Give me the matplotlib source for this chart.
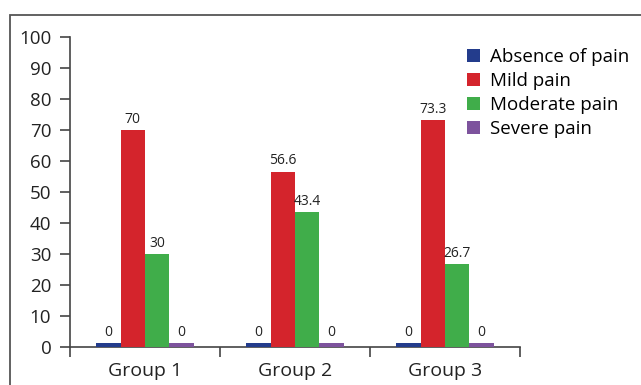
import numpy as np
import matplotlib.pyplot as plt
from matplotlib.patches import Rectangle

plt.rcParams['font.family'] = ['Open Sans', 'DejaVu Sans']

groups = ['Group 1', 'Group 2', 'Group 3']
series = ['Absence of pain', 'Mild pain', 'Moderate pain', 'Severe pain']
absence = [0, 0, 0]
mild = [70, 56.6, 73.3]
moderate = [30, 43.4, 26.7]
severe = [0, 0, 0]
labels_abs = ['0', '0', '0']
labels_mild = ['70', '56.6', '73.3']
labels_mod = ['30', '43.4', '26.7']
labels_sev = ['0', '0', '0']

colors = ['#233c8c', '#d4242c', '#40ad4a', '#7d539d']
edge = '#444444'

fig = plt.figure(figsize=(6.41, 3.85), dpi=100)
ax = fig.add_axes([70/641, 38/385, 450/641, 310/385])

# outer frame (only top and left visible in the original)
fig.patches.append(Rectangle((10/641, -0.1), 1.2, 1 - 15/385 + 0.1,
                             transform=fig.transFigure, fill=False,
                             edgecolor='#555555', linewidth=1.3))

x = np.arange(len(groups))
w = 0.163
data = [absence, mild, moderate, severe]
labs = [labels_abs, labels_mild, labels_mod, labels_sev]
for i, (vals, lab) in enumerate(zip(data, labs)):
    pos = x + (i - 1.5) * w
    h = np.maximum(np.array(vals, dtype=float), 1.2)  # show zero bars as a thin line
    ax.bar(pos, h, width=w, color=colors[i], label=series[i], zorder=3)
    for p, v, t in zip(pos, h, lab):
        ax.text(p, v + 1.0, t, ha='center', va='bottom', fontsize=10, color='#222222')

ax.set_xlim(-0.5, 2.5)
ax.set_ylim(0, 100)
ax.set_yticks(np.arange(0, 101, 10))
ax.set_xticks(x)
ax.set_xticklabels(groups, fontsize=14, color='#222222')
ax.set_xticks(np.arange(-0.5, 3, 1), minor=True)
ax.tick_params(axis='x', which='major', length=0, pad=11)
ax.tick_params(axis='x', which='minor', length=7.5, width=1.2, color=edge)
ax.tick_params(axis='y', length=7.5, width=1.2, color=edge, labelsize=13.5,
               labelcolor='#222222', pad=6)

for s in ['top', 'right']:
    ax.spines[s].set_visible(False)
for s in ['left', 'bottom']:
    ax.spines[s].set_color(edge)
    ax.spines[s].set_linewidth(1.2)

ax.legend(loc='upper left', bbox_to_anchor=(0.866, 0.988), frameon=False,
          fontsize=13.5, handlelength=0.7, handleheight=0.7, handletextpad=0.5,
          labelspacing=0.32, borderaxespad=0)

fig.savefig('out.png', dpi=100)
